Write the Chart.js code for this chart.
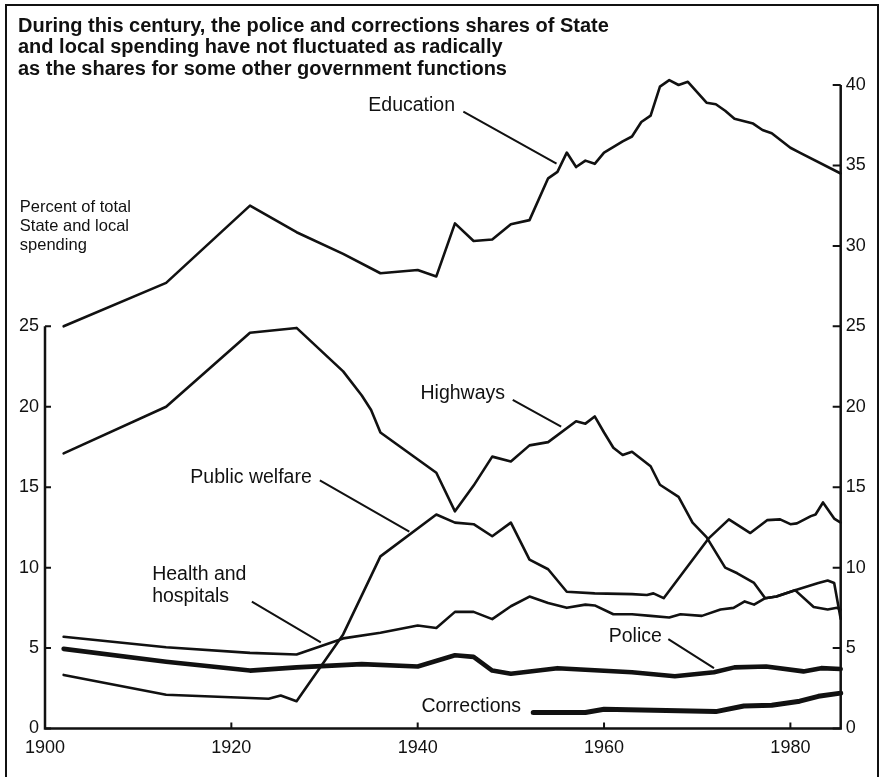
<!DOCTYPE html>
<html><head><meta charset="utf-8">
<script src="https://cdn.jsdelivr.net/npm/chart.js@4.4.1/dist/chart.umd.min.js"></script>
<style>html,body{margin:0;padding:0;background:#fff}#wrap{width:880px;height:777px;position:relative}</style>
</head><body><div id="wrap"><canvas id="c" width="880" height="777"></canvas></div>
<script>
// ---- data (percent of total State and local spending) ----
const educationYears  = [1902,1913,1922,1927,1932,1936,1940,1942,1944,1946,1948,1950,1952,1954,1955,1956,1957,1958,1959,1960,1962,1963,1964,1965,1966,1967,1968,1969,1971,1972,1973,1974,1976,1977,1978,1980,1981,1985.4];
const educationValues = [25.0,27.7,32.5,30.85,29.5,28.3,28.5,28.1,31.4,30.3,30.4,31.35,31.6,34.2,34.6,35.8,34.9,35.3,35.1,35.8,36.5,36.8,37.7,38.1,39.9,40.3,40.0,40.2,38.9,38.8,38.4,37.9,37.6,37.2,37.0,36.1,35.8,34.5];

const highwaysYears  = [1902,1913,1922,1927,1932,1934,1935,1936,1942,1944,1946,1948,1950,1952,1954,1957,1958,1959,1960,1961,1962,1963,1965,1966,1968,1969.5,1971,1973,1974.3,1976.1,1977.3,1978.5,1980.5,1982.5,1984,1985,1985.4];
const highwaysValues = [17.1,20.0,24.6,24.9,22.2,20.7,19.8,18.4,15.9,13.5,15.1,16.9,16.6,17.6,17.8,19.1,18.95,19.4,18.4,17.45,17.0,17.2,16.3,15.15,14.4,12.8,11.9,10.0,9.65,9.05,8.1,8.2,8.6,7.55,7.4,7.5,7.4];

const welfareYears  = [1902,1913,1922,1924,1925.3,1927,1932,1936,1942,1944,1946,1948,1950,1952,1954,1956,1959,1963,1964.6,1965.3,1966.4,1971.2,1973.4,1975.7,1977.5,1978.9,1980,1980.7,1982.2,1982.7,1983.5,1984.7,1985.4];
const welfareValues = [3.33,2.1,1.9,1.85,2.05,1.7,5.85,10.7,13.3,12.8,12.7,11.95,12.8,10.5,9.9,8.5,8.4,8.35,8.3,8.4,8.1,11.8,13.0,12.15,12.95,13.0,12.7,12.75,13.2,13.3,14.05,13.05,12.8];

const healthYears  = [1902,1913,1922,1927,1932,1936,1940,1942,1944,1946,1948,1950,1952,1954,1956,1958,1959,1961,1963,1965,1967,1968.2,1970.5,1972.5,1973.9,1975.1,1976.1,1977.3,1978.5,1980.5,1983,1984,1984.7,1985.4];
const healthValues = [5.7,5.05,4.7,4.6,5.6,5.95,6.4,6.25,7.25,7.25,6.8,7.6,8.2,7.8,7.5,7.7,7.65,7.1,7.1,7.0,6.9,7.1,7.0,7.4,7.5,7.9,7.7,8.1,8.2,8.6,9.05,9.2,9.05,6.8];

const policeYears  = [1902,1913,1922,1927,1934,1940,1944,1946,1948,1950,1955,1963,1967.6,1971.8,1974,1977.4,1981.4,1983.3,1985.4];
const policeValues = [4.95,4.15,3.6,3.8,4.0,3.85,4.55,4.45,3.6,3.4,3.75,3.5,3.25,3.5,3.8,3.85,3.55,3.75,3.7];

const correctionsYears  = [1952.4,1958,1960,1972,1975,1978,1981,1983,1985.4];
const correctionsValues = [1.0,1.0,1.2,1.05,1.4,1.45,1.7,2.0,2.2];

const xTickLabels     = [1900,1920,1940,1960,1980];
const leftTickValues  = [0,5,10,15,20,25];
const rightTickValues = [0,5,10,15,20,25,30,35,40];

const titleLines = [
  'During this century, the police and corrections shares of State',
  'and local spending have not fluctuated as radically',
  'as the shares for some other government functions'
];
const axisTitleLines = ['Percent of total','State and local','spending'];

// ---- annotation placement (in data coordinates) ----
const seriesLabels = [
  {text:'Education',      x:1934.7, y:38.7},
  {text:'Highways',       x:1940.3, y:20.8},
  {text:'Public welfare', x:1915.6, y:15.6},
  {text:'Health and',     x:1911.5, y:9.55},
  {text:'hospitals',      x:1911.5, y:8.2},
  {text:'Police',         x:1960.5, y:5.71},
  {text:'Corrections',    x:1940.4, y:1.36}
];
const leaderLines = [
  [1944.9,38.35,1954.9,35.11],
  [1950.2,20.43,1955.4,18.77],
  [1929.5,15.42,1939.1,12.24],
  [1922.2,7.89,1929.6,5.36],
  [1966.9,5.55,1971.8,3.75]
];
const axisTitlePos = {x:1897.3, y:[32.36,31.18,30.04]};

const FONT = "'Liberation Sans', Arial, Helvetica, sans-serif";
const INK = '#111';

function pts(xs, ys){ return xs.map((x,i)=>({x:x, y:ys[i]})); }
function ds(label, xs, ys, w){
  return {label, data: pts(xs,ys), borderColor: INK, borderWidth: w, pointRadius: 0,
          tension: 0, fill: false, clip: false, borderJoinStyle:'round', borderCapStyle:'round'};
}

const decor = {
  id: 'decor',
  afterDraw(chart){
    const ctx = chart.ctx, xs = chart.scales.x, ys = chart.scales.y, a = chart.chartArea;
    ctx.save();
    ctx.strokeStyle = INK; ctx.fillStyle = INK;
    // outer frame
    ctx.lineWidth = 2;
    ctx.beginPath();
    ctx.moveTo(6, 777); ctx.lineTo(6, 5); ctx.lineTo(878, 5); ctx.lineTo(878, 777);
    ctx.stroke();
    // axes
    ctx.lineWidth = 2.5;
    ctx.beginPath();
    ctx.moveTo(a.left, ys.getPixelForValue(25)); ctx.lineTo(a.left, a.bottom);
    ctx.lineTo(a.right, a.bottom); ctx.lineTo(a.right, ys.getPixelForValue(40));
    ctx.stroke();
    ctx.lineWidth = 2;
    ctx.beginPath();
    leftTickValues.forEach(v=>{ const y = ys.getPixelForValue(v); ctx.moveTo(a.left, y); ctx.lineTo(a.left+6, y); });
    rightTickValues.forEach(v=>{ const y = ys.getPixelForValue(v); ctx.moveTo(a.right-8, y); ctx.lineTo(a.right, y); });
    xTickLabels.slice(1).forEach(v=>{ const x = xs.getPixelForValue(v); ctx.moveTo(x, a.bottom); ctx.lineTo(x, a.bottom-6); });
    ctx.stroke();
    // title
    ctx.font = 'bold 20px ' + FONT;
    ctx.textBaseline = 'middle'; ctx.textAlign = 'left';
    titleLines.forEach((t,i)=> ctx.fillText(t, 18, 26 + i*21.5));
    // axis title
    ctx.font = '16.5px ' + FONT;
    axisTitleLines.forEach((t,i)=> ctx.fillText(t, xs.getPixelForValue(axisTitlePos.x), ys.getPixelForValue(axisTitlePos.y[i])));
    // series labels
    ctx.font = '19.5px ' + FONT;
    seriesLabels.forEach(l=> ctx.fillText(l.text, xs.getPixelForValue(l.x), ys.getPixelForValue(l.y)));
    // leaders
    ctx.lineWidth = 2;
    ctx.beginPath();
    leaderLines.forEach(L=>{
      ctx.moveTo(xs.getPixelForValue(L[0]), ys.getPixelForValue(L[1]));
      ctx.lineTo(xs.getPixelForValue(L[2]), ys.getPixelForValue(L[3]));
    });
    ctx.stroke();
    ctx.restore();
  }
};

new Chart(document.getElementById('c'), {
  type: 'line',
  data: { datasets: [
    ds('Education', educationYears, educationValues, 2.6),
    ds('Highways', highwaysYears, highwaysValues, 2.6),
    ds('Public welfare', welfareYears, welfareValues, 2.6),
    ds('Health and hospitals', healthYears, healthValues, 2.6),
    ds('Police', policeYears, policeValues, 4.6),
    ds('Corrections', correctionsYears, correctionsValues, 5)
  ]},
  options: {
    responsive: false, animation: false, devicePixelRatio: 1,
    layout: { padding: { top: 85, left: 0, right: 0, bottom: 0 } },
    plugins: { legend: { display: false }, tooltip: { enabled: false }, title: { display: false } },
    scales: {
      x: {
        type: 'linear', min: 1900, max: 1985.4,
        grid: { display: false, drawTicks: false }, border: { display: false },
        afterFit(s){ s.height = 48.5; },
        afterBuildTicks(s){ s.ticks = xTickLabels.map(v=>({value:v})); },
        ticks: { autoSkip: false, maxRotation: 0, padding: 9, color: INK,
                 font: { size: 18, family: FONT }, callback: v => String(v) }
      },
      y: {
        position: 'left', min: 0, max: 40,
        grid: { display: false, drawTicks: false }, border: { display: false },
        afterFit(s){ s.width = 45; },
        afterBuildTicks(s){ s.ticks = leftTickValues.map(v=>({value:v})); },
        ticks: { padding: 6, color: INK, font: { size: 18, family: FONT }, callback: v => String(v) }
      },
      y2: {
        position: 'right', min: 0, max: 40,
        grid: { display: false, drawTicks: false }, border: { display: false },
        afterFit(s){ s.width = 39.3; },
        afterBuildTicks(s){ s.ticks = rightTickValues.map(v=>({value:v})); },
        ticks: { padding: 5, color: INK, font: { size: 18, family: FONT }, callback: v => String(v) }
      }
    }
  },
  plugins: [decor]
});
</script>
</body></html>
